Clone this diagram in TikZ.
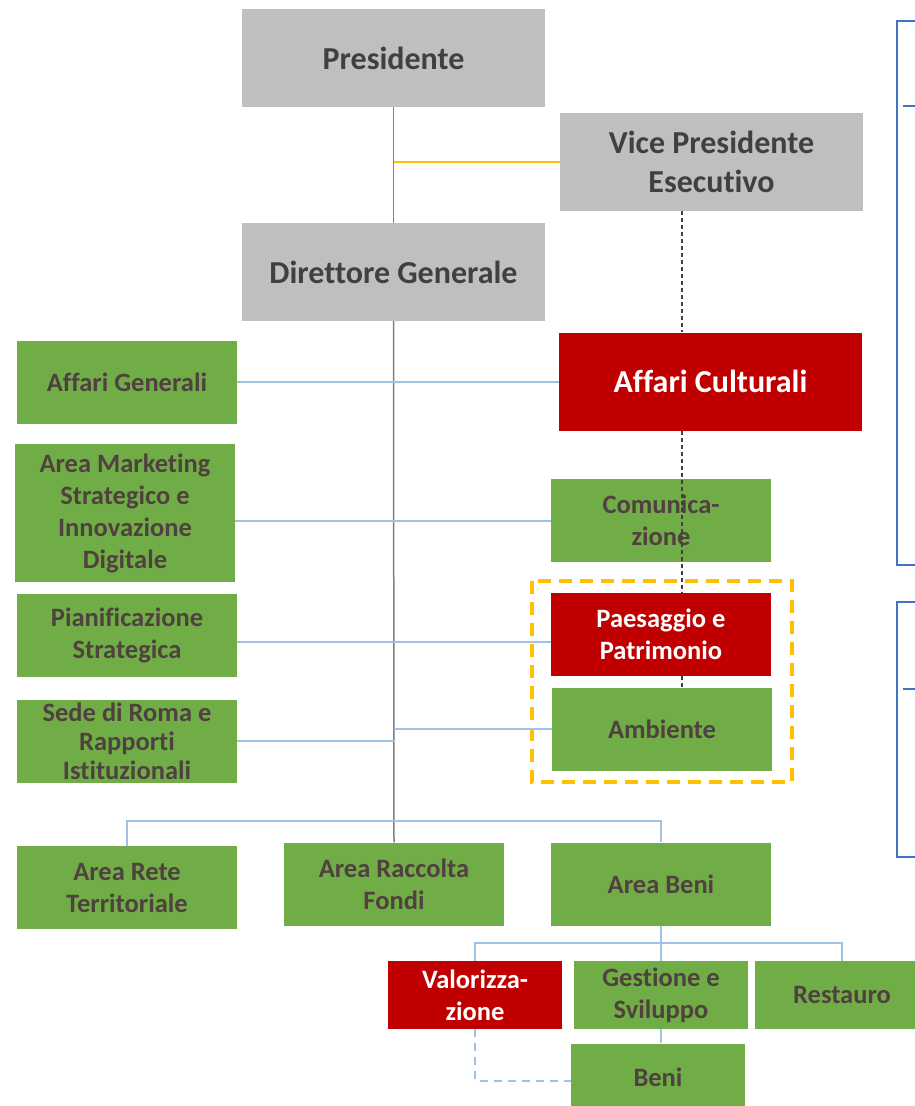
\documentclass[tikz,border=0pt]{standalone}
\usepackage{fontspec}
\setmainfont{Carlito}[Ligatures=NoCommon]
\usepackage{tikz}

\definecolor{cGrigio}{HTML}{BFBFBF}
\definecolor{cVerde}{HTML}{70AD47}
\definecolor{cRosso}{HTML}{C00000}
\definecolor{cGiallo}{HTML}{FFC000}
\definecolor{cAzzurro}{HTML}{9DC3E6}
\definecolor{cBlu}{HTML}{4472C4}
\definecolor{cLinea}{HTML}{808080}
\definecolor{cTesto}{HTML}{404040}
\definecolor{cTestoVerde}{HTML}{504040}

\begin{document}
\begin{tikzpicture}[x=1pt, y=-1pt,
    box/.style={rectangle, inner sep=0pt, align=center, font=\bfseries\fontsize{26.5}{32}\selectfont},
    dirigenza/.style={box, fill=cGrigio, text=cTesto, minimum width=303pt, minimum height=98pt,
        font=\bfseries\fontsize{32}{39}\selectfont},
    ufficio/.style={box, fill=cVerde, text=cTestoVerde, minimum width=220pt, minimum height=83pt},
    chiave/.style={ufficio, fill=cRosso, text=white},
    sezione/.style={ufficio, minimum width=174pt, minimum height=68pt},
    gerarchia/.style={cLinea, line width=1.5pt},
    staff/.style={cAzzurro, line width=2pt},
    delega/.style={cGiallo, line width=2pt},
    funzionale/.style={cTesto, line width=1.3pt, dash pattern=on 4pt off 3pt},
    supporto/.style={cAzzurro, line width=2pt, dash pattern=on 8pt off 6pt},
    quadro/.style={cBlu, line width=2.5pt}]

    \clip (0, 0) rectangle (915, 1106);

    % vertice
    \node[dirigenza] at (393.5, 58) (pres) {Presidente};
    \node[dirigenza] at (711.5, 162) (vice) {Vice Presidente\\Esecutivo};
    \node[dirigenza] at (393.5, 272) (dir) {Direttore Generale};
    \node[chiave, minimum width=303pt, minimum height=98pt,
        font=\bfseries\fontsize{32}{39}\selectfont] at (710.5, 381.5) (cult) {Affari Culturali};

    % staff a sinistra
    \node[ufficio] at (127, 382) (agen) {Affari Generali};
    \node[ufficio, minimum height=138pt] at (125, 513) (mkt) {Area Marketing\\Strategico e\\Innovazione\\Digitale};
    \node[ufficio] at (127, 635.5) (pian) {Pianificazione\\Strategica};
    \node[ufficio, font=\bfseries\fontsize{26.5}{29}\selectfont] at (127, 741) (sede) {Sede di Roma e\\Rapporti\\Istituzionali};

    % staff a destra
    \node[ufficio] at (661, 520.5) (com) {Comunica-\\zione};
    \node[chiave] at (661, 634) (paes) {Paesaggio e\\Patrimonio};
    \node[ufficio] at (662, 729) (amb) {Ambiente};
    \draw[cGiallo, line width=4pt, dash pattern=on 13pt off 8pt] (532, 581) rectangle (792, 782);

    % aree
    \node[ufficio] at (127, 887.5) (rete) {Area Rete\\Territoriale};
    \node[ufficio] at (394, 884) (racc) {Area Raccolta\\Fondi};
    \node[ufficio] at (661, 884) (areabeni) {Area Beni};

    % sezioni dell'area beni
    \node[sezione, fill=cRosso, text=white] at (475, 995) (valo) {Valorizza-\\zione};
    \node[sezione] at (661, 995) (gest) {Gestione e\\Sviluppo};
    \node[sezione] at (842, 995) (rest) {Restauro};
    \node[sezione] at (658, 1077.5) (beni) {Beni};

    % linee gerarchiche
    \draw[gerarchia] (pres.south) -- (dir.north);
    \draw[gerarchia] (dir.south) -- (racc.north);
    \draw[delega] (vice.west -| pres.south) -- (vice.west);

    \draw[staff] (agen.east) -- (agen.east -| cult.west);
    \draw[staff] (mkt.east |- com.west) -- (com.west);
    \draw[staff] ([yshift=-6pt]pian.east) -- ([yshift=-6pt]pian.east -| paes.west);
    \draw[staff] (sede.east) -- (sede.east -| dir.south);
    \draw[staff] (amb.west -| dir.south) -- (amb.west);
    \draw[staff] (rete.north) -- ++(0, -25) -| (areabeni.north);

    \path (areabeni.south) ++(0, 17) coordinate (snodo);
    \draw[staff] (areabeni.south) -- (snodo);
    \draw[staff] (valo.north) |- (snodo) -| (rest.north);
    \draw[staff] (snodo) -- (gest.north);
    \draw[staff] (gest.south) -- (gest.south |- beni.north);
    \draw[supporto] (valo.south) |- ([yshift=-3pt]beni.west);

    % linea funzionale del vice presidente
    \coordinate (asse) at (682, 0);
    \draw[funzionale] (vice.south -| asse) -- (cult.north -| asse);
    \draw[funzionale] (cult.south -| asse) -- (paes.north -| asse);
    \draw[funzionale] (paes.south -| asse) -- (amb.north -| asse);

    % riquadri laterali
    \draw[quadro] (897, 21) rectangle (960, 565);
    \draw[quadro] (903, 106) -- (960, 106);
    \draw[quadro] (897, 602) rectangle (960, 857);
    \draw[quadro] (903, 689) -- (960, 689);
\end{tikzpicture}
\end{document}
